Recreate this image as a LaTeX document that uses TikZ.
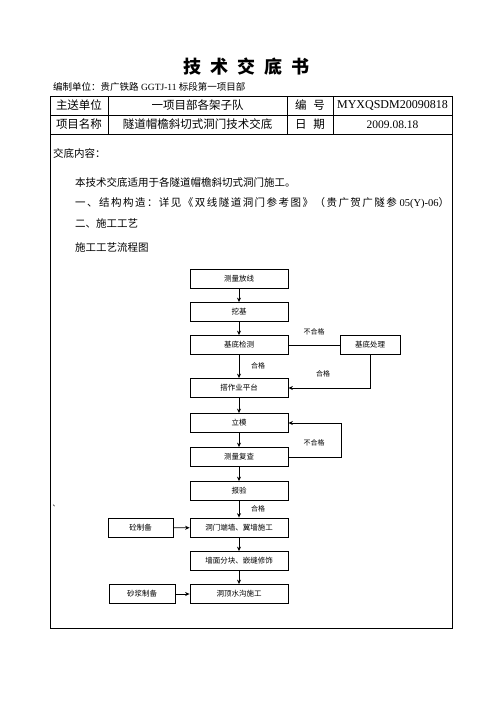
\documentclass[tikz,border=0pt]{standalone}
\usepackage{fontspec}
\setmainfont{Liberation Serif}
\newfontfamily\cjk{Noto Sans CJK SC}
\newcommand{\zh}[1]{{\cjk #1}}
\usetikzlibrary{arrows.meta}
\begin{document}
\begin{tikzpicture}[x=1pt,y=-1pt,
  box/.style={draw,line width=0.8pt,minimum width=98pt,minimum height=19pt,inner sep=0pt,font=\cjk\fontsize{7.5}{8}\selectfont},
  lbl/.style={inner sep=0pt,font=\cjk\fontsize{7}{8}\selectfont},
  cell/.style={inner sep=0pt,font=\fontsize{11.5}{12}\selectfont},
  txt/.style={anchor=west,inner sep=0pt,font=\cjk\fontsize{10.5}{12}\selectfont},
  flow/.style={line width=0.8pt,-{Stealth[length=4.5pt,width=4pt]}}]
 \useasboundingbox (0,0) rectangle (496,702);
 % heading
 \node[inner sep=0pt,font=\cjk\bfseries\fontsize{18}{20}\selectfont] (title) at (246,67) {技\hspace{0.5em}术\hspace{0.5em}交\hspace{0.5em}底\hspace{0.5em}书};
 \node[anchor=west,inner sep=0pt,font=\fontsize{9.5}{10}\selectfont] (unit) at (53,87) {\zh{编制单位：贵广铁路} GGTJ-11 \zh{标段第一项目部}};
 % frame and table
 \draw[line width=0.8pt] (50,96) rectangle (452,628);
 \draw[line width=0.8pt] (50,115) -- (452,115) (50,134) -- (452,134);
 \foreach \x in {108,287,333}
  \draw[line width=0.8pt] (\x,96) -- (\x,134);
 \node[cell] (c11) at (79,105.5) {\zh{主送单位}};
 \node[cell] (c12) at (197.5,105.5) {\zh{一项目部各架子队}};
 \node[cell] (c13) at (310,105.5) {\zh{编\hspace{0.6em}号}};
 \node[cell,font=\fontsize{12}{12}\selectfont] (c14) at (392.5,105.5) {MYXQSDM20090818};
 \node[cell] (c21) at (79,124.5) {\zh{项目名称}};
 \node[cell] (c22) at (197.5,124.5) {\zh{隧道帽檐斜切式洞门技术交底}};
 \node[cell] (c23) at (310,124.5) {\zh{日\hspace{0.6em}期}};
 \node[cell] (c24) at (392.5,124.5) {2009.08.18};
 % content
 \node[txt] (t0) at (53,153) {交底内容：};
 \node[txt] (t1) at (75,182) {本技术交底适用于各隧道帽檐斜切式洞门施工。};
 \node[txt,font=\fontsize{10.5}{12}\selectfont] (t2) at (75,203) {{\cjk\addfontfeature{LetterSpace=14}一、结构构造：详见《双线隧道洞门参考图》（贵广贺广隧参} 05(Y)-06\zh{）}};
 \node[txt] (t3) at (75,223) {二、施工工艺};
 \node[txt] (t4) at (75,247) {施工工艺流程图};
 \node[lbl] (mark) at (56,506) {、};
 % flow chart
 \node[box] (cl) at (239,278.5) {测量放线};
 \node[box] (wj) at (239,312) {挖基};
 \node[box] (jc) at (239,345) {基底检测};
 \node[box,minimum width=60pt] (cl2) at (370,345) {基底处理};
 \node[box] (pt) at (239,388) {搭作业平台};
 \node[box] (lm) at (239,423) {立模};
 \node[box] (fc) at (239,457) {测量复查};
 \node[box] (by) at (239,491) {报验};
 \node[box] (dq) at (239,527.5) {洞门端墙、翼墙施工};
 \node[box] (qm) at (239,561) {墙面分块、嵌缝修饰};
 \node[box] (sg) at (239,594) {洞顶水沟施工};
 \node[box,minimum width=65pt] (tz) at (140.5,528) {砼制备};
 \node[box,minimum width=66pt] (sj) at (142,594) {砂浆制备};
 \draw[flow] (cl) -- (wj);
 \draw[flow] (wj) -- (jc);
 \draw[flow] (jc) -- (pt);
 \draw[flow] (pt) -- (lm);
 \draw[flow] (lm) -- (fc);
 \draw[flow] (fc) -- (by);
 \draw[flow] (by) -- (dq);
 \draw[flow] (dq) -- (qm);
 \draw[flow] (qm) -- (sg);
 \draw[flow] (tz) -- (dq);
 \draw[flow] (sj) -- (sg);
 \draw[line width=0.8pt] (jc) -- (cl2);
 \draw[flow] (cl2.south) |- (pt.east);
 \draw[flow] (fc.east) -- ++(53,0) coordinate (back) |- (lm.east);
 \node[lbl] (l1) at (314,332) {不合格};
 \node[lbl] (l2) at (258,366) {合格};
 \node[lbl] (l3) at (323,374) {合格};
 \node[lbl] (l4) at (314,443) {不合格};
 \node[lbl] (l5) at (258,509) {合格};
\end{tikzpicture}
\end{document}
